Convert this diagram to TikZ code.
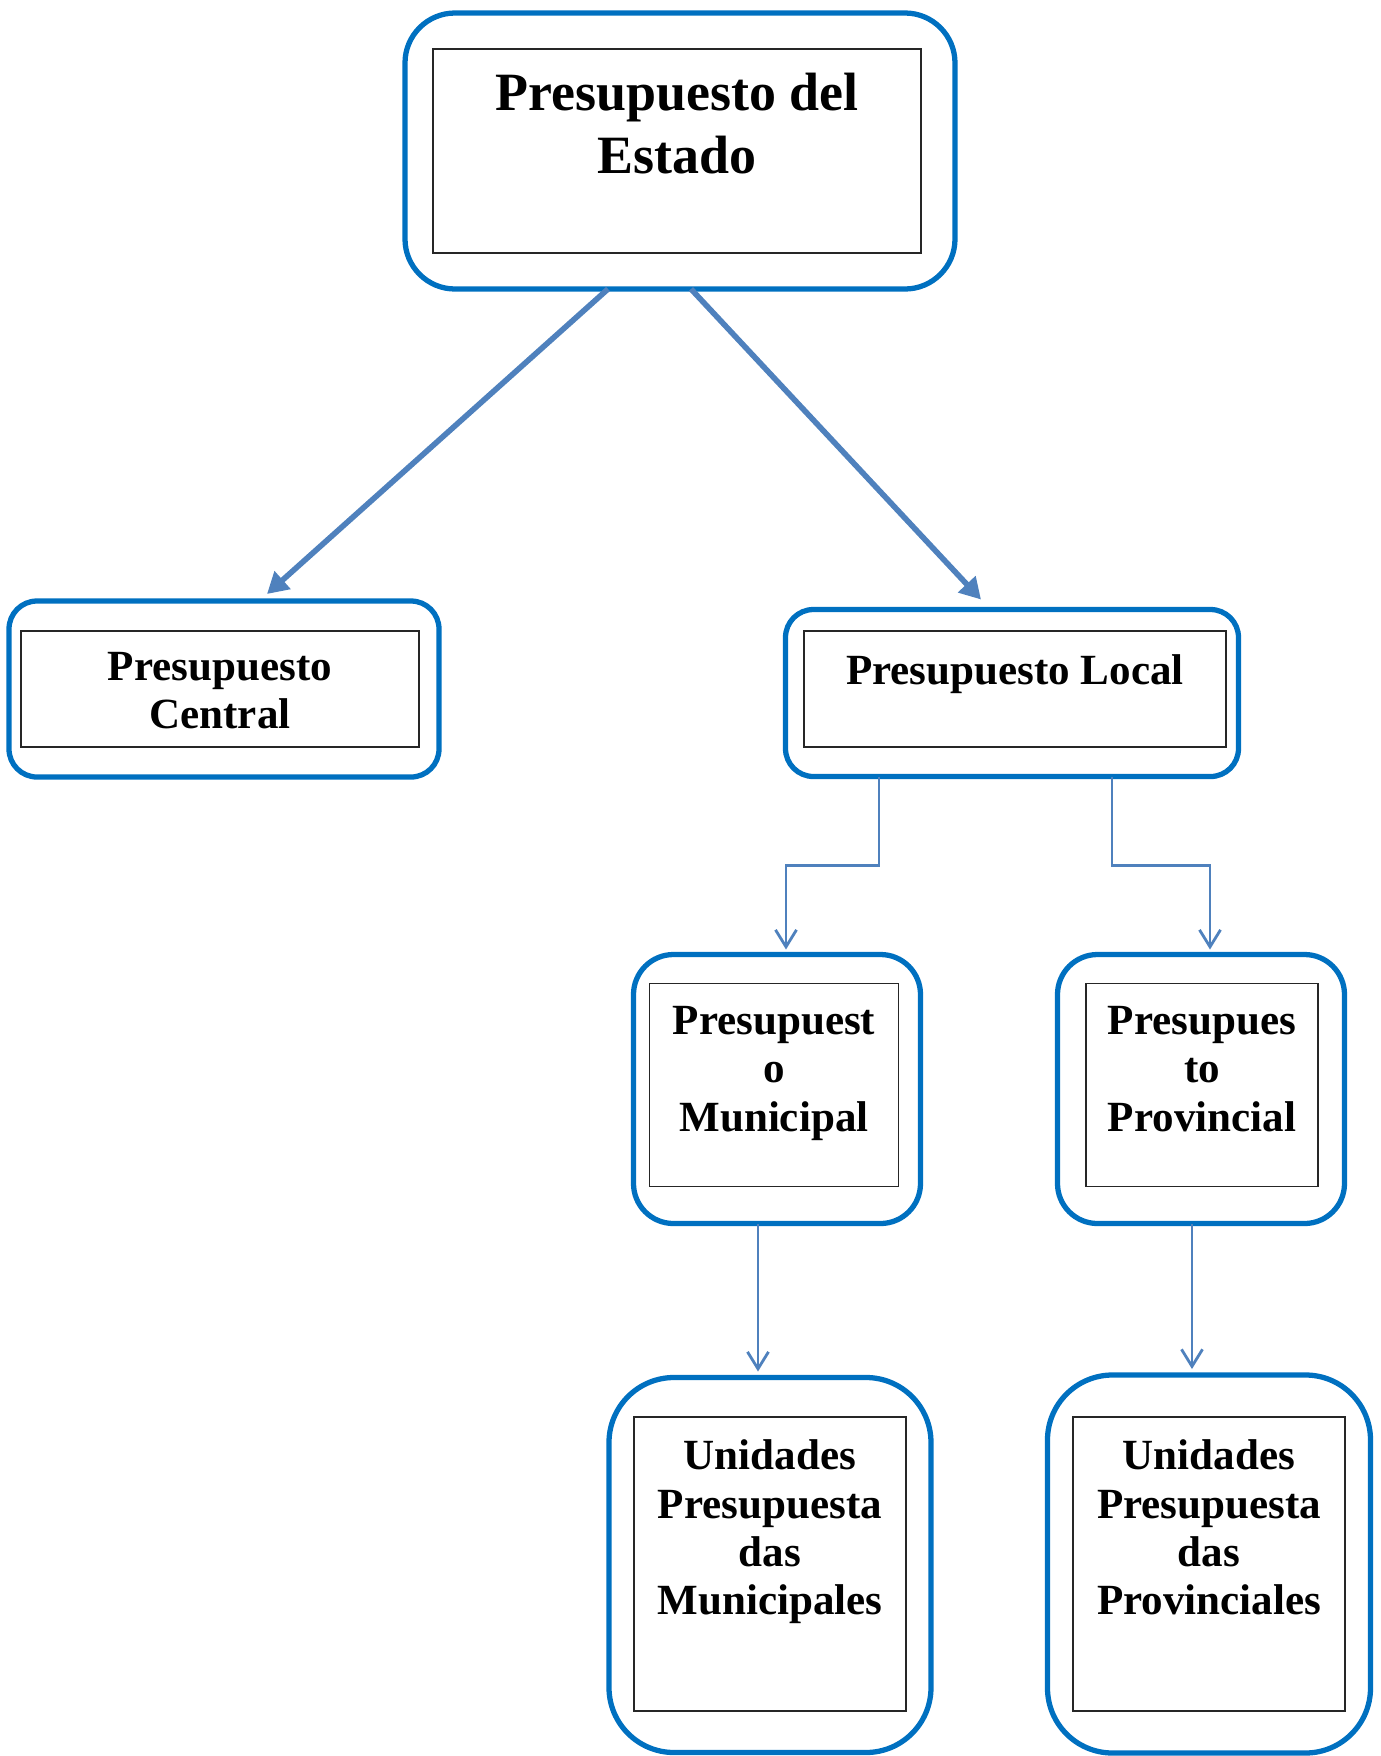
\documentclass[tikz,border=0pt]{standalone}
\usepackage{fontspec}
\setmainfont{Liberation Serif}
\usetikzlibrary{positioning,calc,arrows.meta}
\definecolor{boxblue}{HTML}{0070C0}
\definecolor{linkblue}{HTML}{4F81BD}

\begin{document}
\begin{tikzpicture}[
  x=0.02cm, y=-0.02cm,
  bluebox/.style={draw=boxblue, line width=3pt, inner sep=0pt, outer sep=0pt},
  linebox/.style={draw=black!85, line width=0.9pt, inner sep=0pt, outer sep=0pt},
  boxsize/.style 2 args={minimum width=#1*0.02cm, minimum height=#2*0.02cm},
  txt/.style={align=center, inner sep=0pt, font=\fontsize{24.5}{27.5}\selectfont\bfseries},
  bigtxt/.style={align=center, inner sep=0pt, font=\fontsize{30.7}{35.8}\selectfont\bfseries},
  bigarr/.style={draw=linkblue, line width=3.2pt, -{Triangle[length=0.42cm, width=0.46cm]}},
  thinarr/.style={draw=linkblue, line width=1.6pt, -{Straight Barb[length=0.34cm, width=0.42cm]}},
]

% page frame (pixels of the original)
\useasboundingbox (0,0) rectangle (1381,1756);

% ============ top: state budget ============
\node[bluebox, boxsize={550}{276}, rounded corners=1cm] (estado) at (680,151) {};
\node[linebox, boxsize={488}{204}] (estadoin) at (677,151) {};
\node[bigtxt, below=0.47cm of estadoin.north] (estadotxt) {Presupuesto del\\Estado};

% ============ second row ============
\node[bluebox, boxsize={430}{176}, rounded corners=0.56cm] (central) at (224,689) {};
\node[linebox, boxsize={398}{116}] (centralin) at (220,689) {};
\node[txt, below=0.42cm of centralin.north] (centraltxt) {Presupuesto\\Central};

\node[bluebox, boxsize={453}{167}, rounded corners=0.56cm] (local) at (1012,693) {};
\node[linebox, boxsize={422}{116}] (localin) at (1015,689) {};
\node[txt, below=0.46cm of localin.north] (localtxt) {Presupuesto Local};

% ============ third row ============
\node[bluebox, boxsize={287}{269}, rounded corners=0.8cm] (municipal) at (777,1089) {};
\node[linebox, boxsize={249}{203}] (municipalin) at (774,1085) {};
\node[txt, below=0.45cm of municipalin.north] (municipaltxt) {Presupuest\\o\\Municipal};

\node[bluebox, boxsize={287}{269}, rounded corners=0.8cm] (provincial) at (1201,1089) {};
\node[linebox, boxsize={232}{203}] (provincialin) at (1202,1085) {};
\node[txt, below=0.45cm of provincialin.north] (provincialtxt) {Presupues\\to\\Provincial};

% ============ bottom row ============
\node[bluebox, boxsize={322}{375}, rounded corners=1.3cm] (unimun) at (770,1565) {};
\node[linebox, boxsize={272}{294}] (unimunin) at (770,1564) {};
\node[txt, below=0.45cm of unimunin.north] (unimuntxt) {Unidades\\Presupuesta\\das\\Municipales};

\node[bluebox, boxsize={323}{378}, rounded corners=1.3cm] (uniprov) at (1209,1564) {};
\node[linebox, boxsize={272}{294}] (uniprovin) at (1209,1564) {};
\node[txt, below=0.45cm of uniprovin.north] (uniprovtxt) {Unidades\\Presupuesta\\das\\Provinciales};

% ============ connectors ============
\draw[bigarr] ($(estado.south)+(-72,0)$) -- ($(central.north)+(43,-7)$);
\draw[bigarr] ($(estado.south)+(11,0)$) -- ($(local.north)+(-31,-10)$);

\draw[thinarr] ($(local.south)+(-133,0)$) -- ++(0,89) -| ($(municipal.north)+(9,-5)$);
\draw[thinarr] ($(local.south)+(100,0)$) -- ++(0,89) -| ($(provincial.north)+(9,-5)$);

\coordinate (m1) at ($(municipal.south)+(-19,0)$);
\coordinate (p1) at ($(provincial.south)+(-9,0)$);
\draw[thinarr] (m1) -- ($(m1 |- unimun.north)+(0,-6)$);
\draw[thinarr] (p1) -- ($(p1 |- uniprov.north)+(0,-6)$);

\end{tikzpicture}
\end{document}
